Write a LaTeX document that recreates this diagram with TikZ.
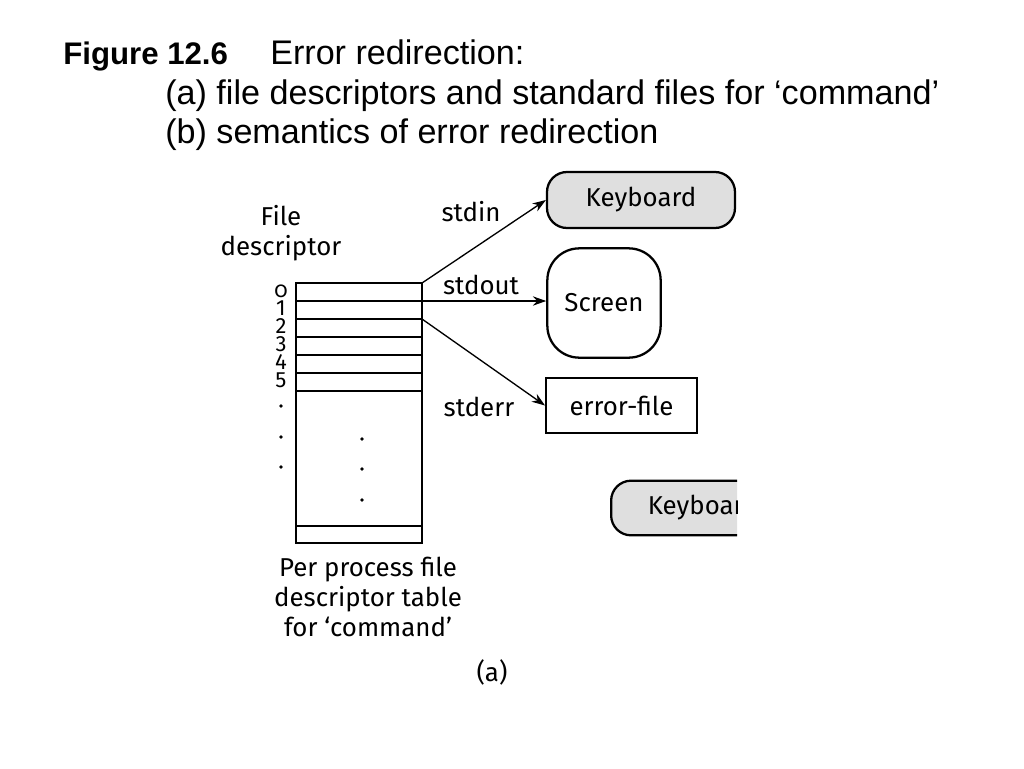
\documentclass[tikz,border=0pt]{standalone}
\usepackage{fontspec}
\setmainfont{Liberation Sans}
\newfontfamily\fira{Fira Sans}
\usetikzlibrary{arrows.meta}
\begin{document}
\begin{tikzpicture}[x=0.75pt,y=-0.75pt,
  title/.style={inner sep=0pt,anchor=base west,font=\fontsize{25.6}{30}\selectfont},
  lab/.style={inner sep=0pt,font=\fira\fontsize{19.4}{22.5}\selectfont},
  num/.style={inner sep=0pt,font=\fira\fontsize{16.5}{20}\selectfont},
  dotn/.style={circle,fill=black,inner sep=0pt,minimum size=2.8pt},
  tline/.style={line width=1.6pt},
  arr/.style={line width=1pt,-{Stealth[length=10pt,width=7pt]}},
  dev/.style={draw,line width=1.7pt,inner sep=0pt,font=\fira\fontsize{19.4}{22}\selectfont}]
\useasboundingbox (0,0) rectangle (1024,768);
% title
\node[title,font=\bfseries\fontsize{23.4}{28}\selectfont] (t1) at (63,64) {Figure 12.6};
\node[title] (t1b) at (270,64) {Error redirection:};
\node[title] (t2) at (165,104) {(a) file descriptors and standard files for ‘command’};
\node[title] (t3) at (165,143) {(b) semantics of error redirection};
% table
\draw[tline] (296,283) rectangle (422,543);
\foreach \yy in {301,319,337,355,373,391,526}
  \draw[tline] (296,\yy) -- (422,\yy);
\coordinate (r0) at (422,283);
\coordinate (r1) at (422,301);
\coordinate (r2) at (422,319);
\node[num] (n0) at (281,291) {\addfontfeature{Numbers=OldStyle}0};
\node[num] (n1) at (281,308) {1};
\node[num] (n2) at (281,326) {2};
\node[num] (n3) at (281,344) {3};
\node[num] (n4) at (281,362) {4};
\node[num] (n5) at (281,380) {5};
\node[dotn] (d1) at (281,406) {};
\node[dotn] (d2) at (281,437) {};
\node[dotn] (d3) at (281,467) {};
\node[dotn] (e1) at (362,439) {};
\node[dotn] (e2) at (362,469) {};
\node[dotn] (e3) at (362,500) {};
% labels
\node[lab,align=center] (fd) at (281,233) {File\\descriptor};
\node[lab,align=center] (pp) at (368,597) {Per process file\\descriptor table\\for ‘command’};
\node[lab] (a) at (492,672) {(a)};
% devices
\node[dev,fill=gray!25,rounded corners=15pt,minimum width=141pt,minimum height=42pt] (kb) at (641,200) {Keyboard};
\node[dev,rounded corners=24pt,minimum width=85pt,minimum height=82pt] (sc) at (604,303) {Screen};
\node[dev,minimum width=113pt,minimum height=41pt] (ef) at (621.5,405.5) {error-file};
% arrows
\draw[arr] (r0) -- (kb.west);
\node[lab] (sin) at (471,212) {stdin};
\draw[arr] (r1) -- (sc.west |- r1);
\node[lab] (sout) at (481,285) {stdout};
\draw[arr] (r2) -- (ef.west);
\node[lab] (serr) at (479,407) {stderr};
% clipped keyboard
\begin{scope}
\clip (590,470) rectangle (737,545);
\node[dev,fill=gray!25,rounded corners=15pt,minimum width=141pt,minimum height=41pt,anchor=west] (kb2) at (610,508) {\makebox[141pt][l]{\hspace{27.5pt}Keyboard}};
\end{scope}
\end{tikzpicture}
\end{document}
